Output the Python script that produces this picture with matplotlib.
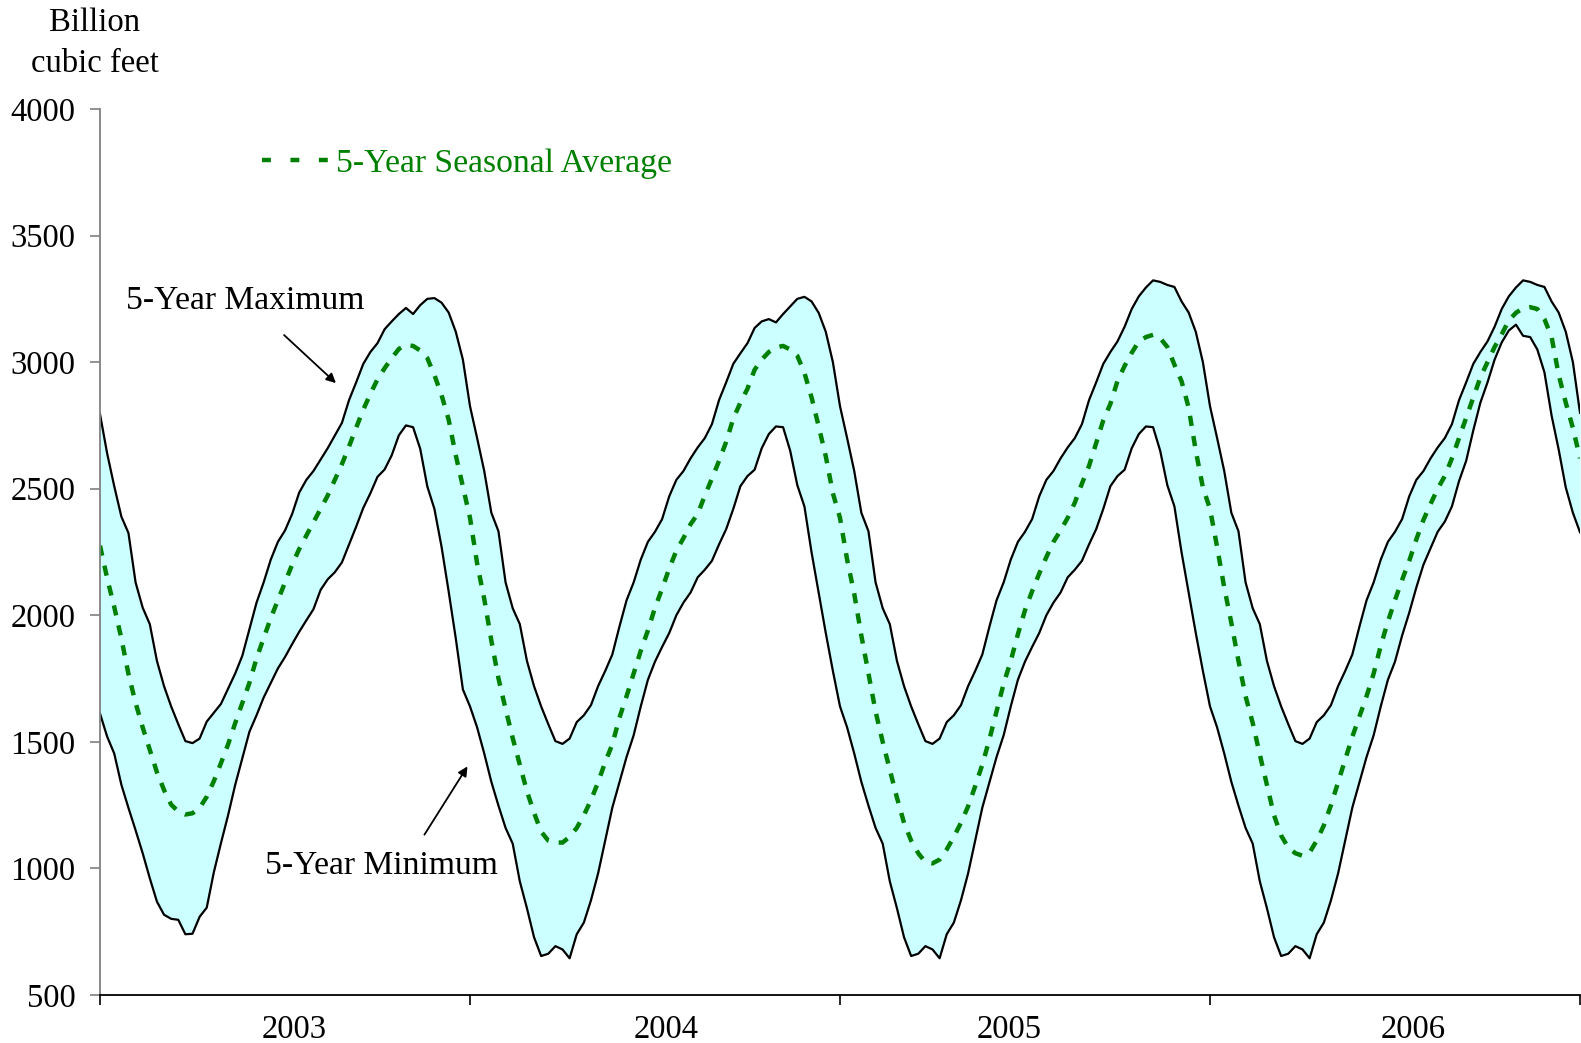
import numpy as np
import matplotlib.pyplot as plt
from matplotlib.lines import Line2D

years = ['2003', '2004', '2005', '2006']
# week positions where the year labels sit under the axis
year_label_weeks = [27.35, 79.6, 127.8, 184.5]

# weekly working gas values, billion cubic feet (52 weeks per year)
max_2003 = [2795, 2640, 2510, 2390, 2325, 2130, 2030, 1965, 1820, 1720,
            1640, 1570, 1503, 1495, 1513, 1580, 1615, 1650, 1710, 1770,
            1840, 1945, 2050, 2130, 2220, 2290, 2335, 2400, 2485, 2535,
            2570, 2615, 2660, 2710, 2760, 2850, 2920, 2993, 3040, 3075,
            3130, 3161, 3190, 3214, 3190, 3225, 3250, 3253, 3235, 3196,
            3120, 3010]
max_2004 = [2826, 2700, 2570, 2405, 2332, 2130, 2028, 1965, 1820, 1720,
            1640, 1570, 1503, 1492, 1513, 1578, 1605, 1645, 1720, 1780,
            1845, 1955, 2059, 2130, 2220, 2290, 2330, 2380, 2470, 2535,
            2570, 2620, 2663, 2700, 2755, 2850, 2920, 2993, 3035, 3075,
            3135, 3161, 3170, 3157, 3190, 3220, 3250, 3258, 3240, 3195,
            3120, 3000]
max_2005 = [2826, 2700, 2570, 2405, 2332, 2130, 2028, 1965, 1820, 1720,
            1640, 1570, 1503, 1492, 1513, 1578, 1605, 1645, 1720, 1780,
            1845, 1955, 2059, 2130, 2220, 2290, 2330, 2380, 2470, 2535,
            2570, 2620, 2663, 2700, 2755, 2850, 2920, 2993, 3040, 3082,
            3140, 3210, 3260, 3295, 3323, 3317, 3305, 3297, 3240, 3196,
            3120, 3000]
max_2006 = [2826, 2700, 2570, 2405, 2332, 2130, 2028, 1965, 1820, 1720,
            1640, 1570, 1503, 1492, 1513, 1578, 1605, 1645, 1720, 1780,
            1845, 1955, 2059, 2130, 2220, 2290, 2330, 2380, 2470, 2535,
            2570, 2620, 2663, 2700, 2755, 2850, 2920, 2993, 3040, 3082,
            3140, 3210, 3260, 3295, 3323, 3317, 3305, 3297, 3240, 3196,
            3120, 3000]
max_end = 2800

min_2003 = [1612, 1521, 1454, 1331, 1239, 1151, 1060, 961, 869, 817,
            801, 797, 740, 742, 809, 845, 985, 1100, 1210, 1330,
            1435, 1540, 1605, 1675, 1733, 1790, 1835, 1886, 1935, 1980,
            2024, 2100, 2142, 2170, 2209, 2280, 2350, 2424, 2482, 2547,
            2576, 2632, 2711, 2750, 2743, 2658, 2509, 2420, 2271, 2094,
            1909, 1707]
min_2004 = [1640, 1557, 1454, 1342, 1248, 1160, 1098, 949, 843, 728,
            654, 663, 693, 680, 645, 740, 786, 874, 980, 1110,
            1240, 1340, 1440, 1526, 1640, 1745, 1817, 1875, 1930, 2000,
            2050, 2090, 2150, 2180, 2215, 2280, 2340, 2420, 2510, 2550,
            2575, 2660, 2716, 2746, 2743, 2650, 2514, 2430, 2249, 2090,
            1930, 1780]
min_2005 = [1640, 1557, 1454, 1342, 1248, 1160, 1098, 949, 843, 728,
            654, 663, 693, 680, 645, 740, 786, 874, 980, 1110,
            1240, 1340, 1440, 1526, 1640, 1745, 1817, 1875, 1930, 2000,
            2050, 2090, 2150, 2180, 2215, 2280, 2340, 2420, 2510, 2550,
            2575, 2660, 2716, 2746, 2743, 2650, 2514, 2430, 2249, 2090,
            1930, 1780]
min_2006 = [1640, 1557, 1454, 1342, 1248, 1160, 1098, 949, 843, 728,
            654, 663, 693, 680, 645, 740, 786, 874, 980, 1110,
            1240, 1340, 1440, 1526, 1640, 1745, 1817, 1920, 2010, 2110,
            2200, 2265, 2330, 2370, 2430, 2530, 2610, 2730, 2840, 2920,
            3010, 3078, 3125, 3148, 3104, 3099, 3050, 2960, 2790, 2655,
            2505, 2405]
min_end = 2328

avg_2003 = [2275, 2147, 2033, 1909, 1768, 1654, 1557, 1469, 1380, 1310,
            1252, 1225, 1213, 1218, 1239, 1283, 1345, 1416, 1490, 1574,
            1654, 1733, 1830, 1909, 1989, 2059, 2130, 2200, 2262, 2315,
            2368, 2420, 2473, 2535, 2597, 2667, 2741, 2812, 2875, 2932,
            2976, 3016, 3052, 3068, 3064, 3046, 3016, 2949, 2870, 2773,
            2632, 2509]
avg_2004 = [2385, 2205, 2065, 1900, 1751, 1630, 1515, 1410, 1305, 1220,
            1145, 1110, 1103, 1102, 1125, 1160, 1210, 1270, 1340, 1420,
            1490, 1595, 1680, 1770, 1860, 1940, 2030, 2105, 2185, 2255,
            2305, 2360, 2400, 2473, 2540, 2610, 2685, 2777, 2840, 2895,
            2970, 3010, 3040, 3058, 3064, 3050, 3025, 2958, 2861, 2747,
            2628, 2482]
avg_2005 = [2385, 2220, 2085, 1920, 1770, 1620, 1500, 1390, 1280, 1180,
            1110, 1060, 1025, 1020, 1035, 1075, 1125, 1180, 1245, 1325,
            1410, 1510, 1620, 1730, 1820, 1925, 2020, 2095, 2165, 2230,
            2290, 2335, 2385, 2445, 2520, 2590, 2680, 2770, 2835, 2926,
            2985, 3037, 3082, 3099, 3108, 3095, 3060, 2990, 2925, 2820,
            2650, 2505]
avg_2006 = [2420, 2270, 2110, 1970, 1820, 1680, 1575, 1450, 1330, 1210,
            1130, 1082, 1060, 1050, 1063, 1110, 1170, 1250, 1340, 1430,
            1520, 1600, 1680, 1770, 1880, 1975, 2060, 2140, 2215, 2300,
            2377, 2440, 2500, 2550, 2620, 2700, 2780, 2860, 2940, 3000,
            3060, 3110, 3165, 3195, 3213, 3217, 3210, 3170, 3100, 2950,
            2840, 2740]
avg_end = 2620

five_max = np.array(max_2003 + max_2004 + max_2005 + max_2006 + [max_end])
five_min = np.array(min_2003 + min_2004 + min_2005 + min_2006 + [min_end])
five_avg = np.array(avg_2003 + avg_2004 + avg_2005 + avg_2006 + [avg_end])
weeks = np.arange(len(five_max))

plt.rcParams['font.family'] = ['Liberation Serif', 'DejaVu Serif']
fs = 23.5
fs_note = 24.2
green = '#008000'

fig = plt.figure(figsize=(15.81, 10.43), dpi=100)
ax = fig.add_axes([100 / 1581, 48 / 1043, 1480 / 1581, 886 / 1043])

ax.fill_between(weeks, five_min, five_max, color='#ccffff', lw=0)
ax.plot(weeks, five_max, color='black', lw=1.6)
ax.plot(weeks, five_min, color='black', lw=1.6)
ax.plot(weeks, five_avg, color=green, lw=3.2, dashes=(2.3, 2.3))

ax.set_xlim(0, 208)
ax.set_ylim(500, 4000)
ax.set_yticks(range(500, 4001, 500))
ax.tick_params(axis='y', direction='out', length=7, width=1.2, color='#808080',
               pad=10.5, labelsize=fs)

ax.set_xticks(np.arange(0, 209, 52))
ax.set_xticklabels([])
ax.set_xticks(year_label_weeks, minor=True)
ax.set_xticklabels(years, minor=True)
ax.tick_params(axis='x', which='major', direction='out', length=7, width=1.2, color='black')
ax.tick_params(axis='x', which='minor', length=0, pad=14, labelsize=fs)

ax.spines['top'].set_visible(False)
ax.spines['right'].set_visible(False)
ax.spines['left'].set_color('#808080')
ax.spines['left'].set_linewidth(1.3)
ax.spines['bottom'].set_linewidth(1.3)

fig.text(95 / 1581, 1 - 23 / 1043, 'Billion', ha='center', va='center', fontsize=fs)
fig.text(95 / 1581, 1 - 64 / 1043, 'cubic feet', ha='center', va='center', fontsize=fs)

proxy = Line2D([], [], color=green, lw=3.2, dashes=(2, 4.4))
ax.legend(handles=[proxy], labels=['5-Year Seasonal Average'], loc='center left',
          bbox_to_anchor=(0.1095, 0.938), frameon=False, fontsize=fs_note,
          handlelength=1.95, handletextpad=0.25, borderpad=0, borderaxespad=0,
          labelcolor=green)

arrow = dict(arrowstyle='-|>', color='black', lw=1.3, mutation_scale=14)
ax.text(0.0176, 0.7835, '5-Year Maximum', transform=ax.transAxes, fontsize=fs_note,
        ha='left', va='center')
ax.annotate('', xy=(0.1608, 0.6885), xytext=(0.123, 0.747),
            xycoords='axes fraction', textcoords='axes fraction', arrowprops=arrow)
ax.text(0.1115, 0.1455, '5-Year Minimum', transform=ax.transAxes, fontsize=fs_note,
        ha='left', va='center')
ax.annotate('', xy=(0.2493, 0.2607), xytext=(0.2182, 0.1783),
            xycoords='axes fraction', textcoords='axes fraction', arrowprops=arrow)

fig.savefig('out.png', dpi=100)
